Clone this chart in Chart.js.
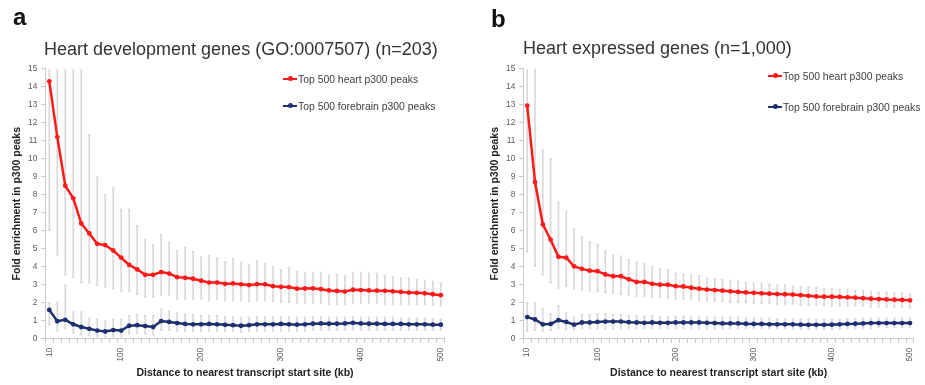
<!DOCTYPE html>
<html>
<head>
<meta charset="utf-8">
<script src="https://cdn.jsdelivr.net/npm/chart.js@4.4.1/dist/chart.umd.min.js"></script>
<style>
  body { margin: 0; background: #fff; font-family: "Liberation Sans", Arial, sans-serif; }
  #fig { position: relative; width: 925px; height: 385px; overflow: hidden; }
  canvas { position: absolute; top: 0; }
  .lbl { position: absolute; font-weight: bold; font-size: 24px; line-height: 24px; color: #111; }
  .ttl { position: absolute; font-size: 18px; line-height: 18px; color: #333; white-space: nowrap; }
  .leg { position: absolute; height: 14px; display: flex; align-items: center; font-size: 10.4px; color: #404040; white-space: nowrap; }
  .leg .smp { position: relative; width: 14px; height: 2.5px; margin-right: 1px; }
  .leg .dot { position: absolute; left: 4.5px; top: -1.5px; width: 5px; height: 5px; border-radius: 50%; }
</style>
</head>
<body>
<div id="fig">
  <canvas id="chartA" width="462" height="385" style="left:0"></canvas>
  <canvas id="chartB" width="463" height="385" style="left:462px"></canvas>

  <div class="lbl" style="left:13px;top:5px">a</div>
  <div class="lbl" style="left:491px;top:7px">b</div>
  <div class="ttl" style="left:44px;top:40px">Heart development genes (GO:0007507) (n=203)</div>
  <div class="ttl" style="left:523px;top:39px">Heart expressed genes (n=1,000)</div>

  <div class="leg" style="left:283px;top:72px"><span class="smp" style="background:#ff1a1a"><span class="dot" style="background:#ff1a1a"></span></span>Top 500 heart p300 peaks</div>
  <div class="leg" style="left:283px;top:99px"><span class="smp" style="background:#1c2f6e"><span class="dot" style="background:#1c2f6e"></span></span>Top 500 forebrain p300 peaks</div>
  <div class="leg" style="left:768px;top:69px"><span class="smp" style="background:#ff1a1a"><span class="dot" style="background:#ff1a1a"></span></span>Top 500 heart p300 peaks</div>
  <div class="leg" style="left:768px;top:100px"><span class="smp" style="background:#1c2f6e"><span class="dot" style="background:#1c2f6e"></span></span>Top 500 forebrain p300 peaks</div>
</div>

<script>
// distance bins (kb)
const distances = [10, 20, 30, 40, 50, 60, 70, 80, 90, 100,
  110, 120, 130, 140, 150, 160, 170, 180, 190, 200,
  210, 220, 230, 240, 250, 260, 270, 280, 290, 300,
  310, 320, 330, 340, 350, 360, 370, 380, 390, 400,
  410, 420, 430, 440, 450, 460, 470, 480, 490, 500];
const xTickLabels = [10, 100, 200, 300, 400, 500];

// panel a: heart development genes
const devHeart = [14.3, 11.2, 8.5, 7.8, 6.4, 5.85, 5.27, 5.2, 4.9, 4.5,
  4.1, 3.85, 3.55, 3.55, 3.7, 3.62, 3.42, 3.38, 3.33, 3.22,
  3.12, 3.12, 3.05, 3.07, 3.02, 2.98, 3.03, 3.02, 2.92, 2.88,
  2.87, 2.78, 2.79, 2.8, 2.75, 2.68, 2.65, 2.62, 2.72, 2.7,
  2.68, 2.67, 2.66, 2.63, 2.6, 2.56, 2.55, 2.52, 2.47, 2.42];
const devHeartHi = [22.6, 17.8, 15.5, 15.3, 15.2, 11.35, 9.0, 8.0, 8.4, 7.2,
  7.2, 6.3, 5.5, 5.25, 5.8, 5.4, 4.9, 5.1, 4.85, 4.55,
  4.65, 4.5, 4.3, 4.45, 4.25, 4.15, 4.35, 4.2, 4.0, 3.85,
  3.95, 3.75, 3.7, 3.7, 3.7, 3.55, 3.6, 3.5, 3.7, 3.7,
  3.65, 3.65, 3.5, 3.45, 3.4, 3.4, 3.3, 3.25, 3.2, 3.1];
const devHeartLo = [6.0, 4.6, 3.5, 3.4, 3.1, 3.1, 2.95, 2.85, 2.75, 2.6,
  2.6, 2.45, 2.3, 2.3, 2.4, 2.4, 2.2, 2.2, 2.2, 2.2,
  2.1, 2.15, 2.1, 2.1, 2.1, 2.05, 2.1, 2.1, 2.05, 2.0,
  2.0, 1.95, 1.95, 1.95, 1.95, 1.9, 1.9, 1.9, 1.95, 1.95,
  1.95, 1.95, 1.9, 1.9, 1.9, 1.9, 1.88, 1.87, 1.85, 1.82];
const devFore = [1.6, 0.97, 1.05, 0.8, 0.65, 0.55, 0.45, 0.4, 0.48, 0.45,
  0.72, 0.75, 0.7, 0.65, 0.98, 0.93, 0.87, 0.82, 0.8, 0.8,
  0.82, 0.8, 0.77, 0.75, 0.72, 0.75, 0.8, 0.8, 0.8, 0.82,
  0.8, 0.78, 0.8, 0.83, 0.85, 0.83, 0.83, 0.85, 0.88, 0.85,
  0.83, 0.83, 0.82, 0.82, 0.82, 0.8, 0.8, 0.8, 0.78, 0.78];
const devForeHi = [2.0, 2.05, 3.0, 1.5, 1.5, 1.15, 1.1, 1.0, 1.1, 1.1,
  1.3, 1.35, 1.3, 1.3, 1.65, 1.55, 1.45, 1.4, 1.35, 1.3,
  1.3, 1.3, 1.25, 1.25, 1.2, 1.2, 1.25, 1.25, 1.25, 1.25,
  1.25, 1.2, 1.2, 1.25, 1.25, 1.2, 1.2, 1.2, 1.25, 1.2,
  1.2, 1.2, 1.2, 1.2, 1.15, 1.15, 1.15, 1.15, 1.12, 1.12];
const devForeLo = [0.75, 0.4, 0.55, 0.3, 0.2, 0.15, 0.1, 0.08, 0.1, 0.1,
  0.25, 0.3, 0.25, 0.2, 0.45, 0.45, 0.4, 0.38, 0.38, 0.38,
  0.4, 0.4, 0.38, 0.38, 0.35, 0.38, 0.4, 0.42, 0.42, 0.42,
  0.42, 0.4, 0.42, 0.45, 0.45, 0.45, 0.45, 0.45, 0.48, 0.45,
  0.45, 0.45, 0.45, 0.45, 0.45, 0.45, 0.45, 0.45, 0.45, 0.45];

// panel b: heart expressed genes
const exprHeart = [12.95, 8.7, 6.35, 5.5, 4.55, 4.5, 4.02, 3.88, 3.78, 3.75,
  3.57, 3.47, 3.47, 3.3, 3.15, 3.15, 3.05, 3.0, 3.0, 2.92,
  2.9, 2.83, 2.78, 2.73, 2.7, 2.67, 2.63, 2.6, 2.57, 2.55,
  2.52, 2.5, 2.48, 2.47, 2.45, 2.42, 2.38, 2.35, 2.33, 2.33,
  2.32, 2.3, 2.28, 2.25, 2.22, 2.2, 2.18, 2.17, 2.15, 2.13];
const exprHeartHi = [21.0, 15.5, 10.5, 10.0, 7.6, 7.1, 6.1, 5.7, 5.4, 5.25,
  4.9, 4.65, 4.6, 4.4, 4.25, 4.2, 4.0, 3.9, 3.85, 3.65,
  3.6, 3.55, 3.5, 3.4, 3.35, 3.3, 3.25, 3.2, 3.15, 3.1,
  3.1, 3.05, 3.0, 3.0, 2.95, 2.9, 2.9, 2.85, 2.8, 2.8,
  2.75, 2.75, 2.7, 2.7, 2.65, 2.6, 2.6, 2.55, 2.55, 2.5];
const exprHeartLo = [4.8, 4.0, 3.5, 3.1, 2.8, 2.9, 2.75, 2.7, 2.65, 2.6,
  2.55, 2.5, 2.45, 2.4, 2.35, 2.35, 2.3, 2.3, 2.25, 2.2,
  2.2, 2.15, 2.1, 2.1, 2.05, 2.05, 2.0, 2.0, 2.0, 1.95,
  1.95, 1.95, 1.9, 1.9, 1.9, 1.85, 1.85, 1.85, 1.85, 1.8,
  1.8, 1.8, 1.8, 1.8, 1.75, 1.75, 1.75, 1.75, 1.72, 1.7];
const exprFore = [1.2, 1.07, 0.8, 0.82, 1.03, 0.93, 0.78, 0.9, 0.9, 0.93,
  0.95, 0.95, 0.95, 0.92, 0.9, 0.88, 0.9, 0.88, 0.88, 0.9,
  0.9, 0.9, 0.9, 0.88, 0.87, 0.85, 0.85, 0.85, 0.83, 0.82,
  0.82, 0.8, 0.8, 0.8, 0.8, 0.78, 0.77, 0.77, 0.77, 0.78,
  0.8, 0.82, 0.83, 0.85, 0.87, 0.87, 0.87, 0.87, 0.87, 0.87];
const exprForeHi = [2.0, 2.0, 1.7, 1.4, 1.85, 1.45, 1.2, 1.35, 1.35, 1.4,
  1.4, 1.35, 1.35, 1.3, 1.3, 1.25, 1.3, 1.25, 1.25, 1.25,
  1.25, 1.25, 1.25, 1.2, 1.2, 1.2, 1.2, 1.2, 1.15, 1.15,
  1.15, 1.15, 1.12, 1.12, 1.1, 1.1, 1.1, 1.1, 1.1, 1.1,
  1.1, 1.12, 1.12, 1.15, 1.15, 1.15, 1.15, 1.15, 1.15, 1.15];
const exprForeLo = [0.4, 0.45, 0.4, 0.45, 0.55, 0.5, 0.5, 0.55, 0.55, 0.55,
  0.55, 0.55, 0.55, 0.55, 0.55, 0.55, 0.55, 0.55, 0.55, 0.55,
  0.55, 0.55, 0.55, 0.55, 0.55, 0.55, 0.55, 0.55, 0.55, 0.55,
  0.55, 0.55, 0.55, 0.55, 0.55, 0.5, 0.5, 0.5, 0.5, 0.5,
  0.5, 0.55, 0.55, 0.55, 0.55, 0.6, 0.6, 0.6, 0.6, 0.6];

const RED = '#ff1a1a';
const BLUE = '#1c2f6e';
const ERR = '#d9d9d9';
const CAP = '#e3e3e3';
const AXIS = '#c8c8c8';

// error bar = thin floating bar + a short capped bar (top/bottom borders only)
function errBars(hi, lo) {
  const ranges = lo.map((v, i) => [v, hi[i]]);
  return [
    { type: 'bar', data: ranges, backgroundColor: ERR, barThickness: 1, grouped: false, order: 2 },
    { type: 'bar', data: ranges, backgroundColor: 'rgba(0,0,0,0)', borderColor: CAP,
      borderWidth: { top: 1, bottom: 1, left: 0, right: 0 }, borderSkipped: false,
      barThickness: 3, grouped: false, order: 2 }
  ];
}

function series(data, color) {
  return {
    type: 'line', data: data, borderColor: color, backgroundColor: color,
    borderWidth: 2.5, pointRadius: 2.4, pointBorderWidth: 0, pointBackgroundColor: color,
    tension: 0, order: 0
  };
}

function makeChart(id, heart, heartHi, heartLo, fore, foreHi, foreLo, pad) {
  new Chart(document.getElementById(id).getContext('2d'), {
    type: 'line',
    data: {
      labels: distances,
      datasets: [
        series(heart, RED),
        series(fore, BLUE),
        ...errBars(heartHi, heartLo),
        ...errBars(foreHi, foreLo)
      ]
    },
    options: {
      responsive: false,
      animation: false,
      layout: { padding: pad },
      plugins: { legend: { display: false }, tooltip: { enabled: false } },
      scales: {
        x: {
          offset: true,
          grid: { offset: true, drawOnChartArea: false, tickLength: 4, color: AXIS },
          border: { color: AXIS },
          ticks: {
            autoSkip: false, maxRotation: 90, minRotation: 90, padding: 5,
            color: '#595959', font: { family: 'Liberation Sans', size: 8.3 },
            callback: function (value) {
              const d = this.getLabelForValue(value);
              return xTickLabels.includes(d) ? String(d) : '';
            }
          },
          title: {
            display: true, text: 'Distance to nearest transcript start site (kb)',
            color: '#222', font: { family: 'Liberation Sans', size: 10.5, weight: 'bold' },
            padding: { top: 0, bottom: 5.4 }
          },
          afterFit: s => { s.height = 46.3; }
        },
        y: {
          min: 0, max: 15,
          grid: { drawOnChartArea: false, tickLength: 4, color: AXIS },
          border: { color: AXIS },
          ticks: {
            stepSize: 1, padding: 4, color: '#595959',
            font: { family: 'Liberation Sans', size: 8.3 }
          },
          title: {
            display: true, text: 'Fold enrichment in p300 peaks',
            color: '#222', font: { family: 'Liberation Sans', size: 10.5, weight: 'bold' },
            padding: { top: 10.4, bottom: 0 }
          },
          afterFit: s => { s.width = 45.3; }
        }
      }
    }
  });
}

makeChart('chartA', devHeart, devHeartHi, devHeartLo, devFore, devForeHi, devForeLo,
  { left: 0, right: 17.2, top: 68.7, bottom: 0 });
makeChart('chartB', exprHeart, exprHeartHi, exprHeartLo, exprFore, exprForeHi, exprForeLo,
  { left: 16, right: 1, top: 68.7, bottom: 0 });
</script>
</body>
</html>
